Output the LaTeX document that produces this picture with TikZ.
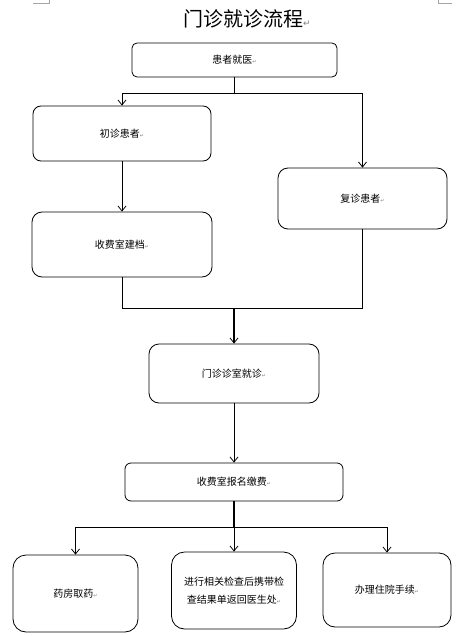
\documentclass[tikz,border=0pt]{standalone}
\usepackage{fontspec}
\newfontfamily\cjk{Noto Sans CJK SC}
\newfontfamily\symf{DejaVu Sans}
\usetikzlibrary{arrows.meta}
\newcommand\parmk{\textcolor{gray}{\symf\fontsize{5}{5}\selectfont ↵}}
\tikzset{
  box/.style={draw, line width=0.8pt, inner sep=0pt, align=center,
    font=\cjk\fontsize{10}{18}\selectfont},
  arr/.style={line width=0.8pt, -{Straight Barb[length=5pt,width=8pt]}},
  thickarr/.style={line width=1.6pt, -{Straight Barb[length=5pt,width=8pt,line width=0.8pt]}},
  ln/.style={line width=0.8pt},
  thickln/.style={line width=1.6pt},
  cmark/.style={draw=gray!70, line width=0.6pt}
}
\begin{document}
\begin{tikzpicture}[x=1pt,y=-1pt]
\useasboundingbox (0,0) rectangle (465,636);
% corner marks
\draw[cmark] (33,3) -- (49,3) -- (49,0);
\draw[cmark] (438,0) -- (438,3) -- (452,3);
% title
\node[font=\cjk\fontsize{20}{24}\selectfont, inner sep=0pt] (title) at (243,19)
  {门诊就诊流程\rlap{\textcolor{gray}{\symf\fontsize{9}{9}\selectfont ↵}}};
% boxes
\node[box, minimum width=205pt, minimum height=34pt, rounded corners=5pt] (b1) at (234.5,60) {患者就医\parmk};
\node[box, minimum width=178pt, minimum height=55pt, rounded corners=8pt] (b2) at (122,133.5) {初诊患者\parmk};
\node[box, minimum width=180pt, minimum height=65pt, rounded corners=10pt] (b3) at (122,244.5) {收费室建档\parmk};
\node[box, minimum width=169pt, minimum height=61pt, rounded corners=10pt] (b4) at (362.5,198.5) {复诊患者\parmk};
\node[box, minimum width=170pt, minimum height=59pt, rounded corners=10pt] (b5) at (234,373.5) {门诊诊室就诊\parmk};
\node[box, minimum width=218pt, minimum height=38pt, rounded corners=6pt] (b6) at (234,482) {收费室报名缴费\parmk};
\node[box, minimum width=125pt, minimum height=77pt, rounded corners=13pt] (b7) at (75.5,593.5) {药房取药\parmk};
\node[box, minimum width=125pt, minimum height=77pt, rounded corners=13pt] (b8) at (234,590.5) {进行相关检查后携带检\\查结果单返回医生处\parmk};
\node[box, minimum width=128pt, minimum height=74pt, rounded corners=12pt] (b9) at (387,590) {办理住院手续\parmk};
% connectors
\path (b1.south) ++(0,16) coordinate (j1);
\draw[thickln] (b1.south) -- (j1);
\draw[arr] (j1) -| (b2.north);
\draw[arr] (j1) -| (b4.north);
\draw[arr] (b2) -- (b3);
\path (b5.north) ++(0,-35) coordinate (j2);
\draw[ln] (b3.south) |- (j2);
\draw[ln] (b4.south) |- (j2);
\draw[thickarr] (j2) -- (b5.north);
\draw[arr] (b5) -- (b6);
\path (b6.south) ++(0,26) coordinate (j3);
\draw[thickln] (b6.south) -- (j3);
\draw[arr] (j3) -| (b7.north);
\draw[arr] (j3) -- (b8.north);
\draw[arr] (j3) -| (b9.north);
\end{tikzpicture}
\end{document}
